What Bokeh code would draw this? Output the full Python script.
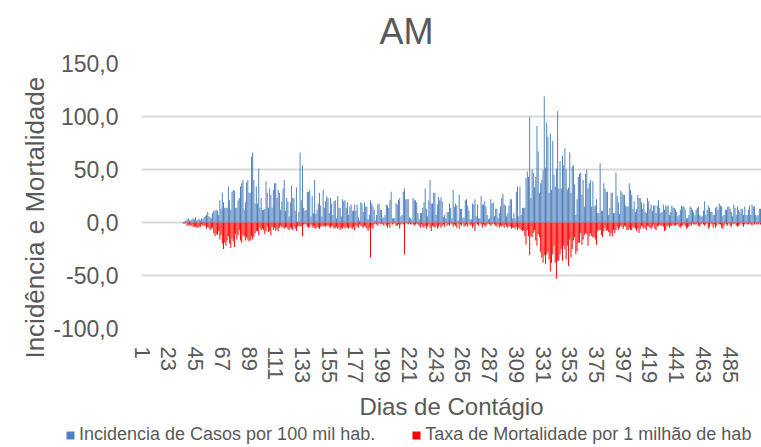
from bokeh.plotting import figure
from bokeh.layouts import column
from bokeh.models import (ColumnDataSource, Range1d, FixedTicker, Legend, LegendItem, Title)
from bokeh.embed import file_html
from bokeh.resources import INLINE

TITLE = "AM"
X_LABEL = "Dias de Contágio"
Y_LABEL = "Incidência e Mortalidade"
SERIES_NAMES = ["Incidencia de Casos por 100 mil hab.", "Taxa de Mortalidade por 1 milhão de hab"]

X_TICKS = [1, 23, 45, 67, 89, 111, 133, 155, 177, 199, 221, 243, 265, 287, 309,
           331, 353, 375, 397, 419, 441, 463, 485]
Y_TICKS = [-100, -50, 0, 50, 100, 150]

INCIDENCIA = [
    0, 0, 0, 0, 0, 0, 0, 0, 0, 0,
    0, 0, 0, 0, 0, 0, 0, 0, 0, 0,
    0, 0, 0, 0, 0, 0, 0, 0, 0, 0,
    0, 0, 0, 0, 0, 1, 2, 3, 4, 2,
    2, 3, 4, 3, 5, 2, 3, 3, 2, 4,
    3, 5, 6, 7, 10, 6, 5, 4, 9, 11,
    11, 12, 11, 7, 21, 13, 28, 19, 14, 14,
    14, 34, 21, 12, 29, 31, 30, 14, 14, 21,
    23, 34, 37, 40, 12, 19, 38, 40, 28, 28,
    62, 66, 40, 18, 34, 18, 51, 14, 23, 12,
    12, 13, 39, 28, 14, 32, 26, 14, 31, 37,
    37, 23, 31, 28, 12, 20, 32, 40, 11, 23,
    20, 6, 19, 35, 23, 23, 11, 33, 1, 10,
    66, 21, 54, 14, 11, 12, 29, 29, 31, 6,
    25, 9, 40, 8, 12, 18, 28, 16, 6, 31,
    14, 20, 25, 23, 9, 23, 18, 7, 20, 21,
    4, 25, 14, 14, 6, 22, 20, 21, 14, 19,
    7, 15, 17, 11, 11, 17, 11, 17, 5, 2,
    19, 18, 10, 19, 15, 15, 3, 7, 21, 18,
    15, 12, 2, 7, 17, 18, 12, 12, 4, 5,
    7, 17, 16, 14, 21, 29, 4, 4, 4, 18,
    17, 21, 23, 6, 7, 29, 32, 22, 22, 22,
    5, 4, 3, 23, 21, 21, 19, 9, 3, 9,
    9, 14, 19, 32, 13, 6, 21, 40, 18, 18,
    28, 28, 7, 17, 24, 21, 24, 20, 5, 7,
    4, 10, 10, 18, 14, 4, 31, 15, 18, 16,
    2, 26, 13, 13, 4, 5, 21, 22, 16, 11,
    3, 3, 18, 17, 22, 6, 17, 4, 4, 25,
    17, 17, 20, 15, 7, 3, 4, 22, 18, 19,
    6, 13, 13, 4, 9, 15, 23, 27, 17, 16,
    6, 9, 16, 22, 22, 4, 9, 4, 29, 34,
    6, 34, 7, 14, 14, 14, 42, 48, 43, 100,
    23, 50, 47, 33, 43, 91, 67, 28, 37, 40,
    49, 119, 52, 94, 81, 28, 84, 31, 77, 45,
    34, 51, 105, 32, 58, 32, 63, 54, 70, 50,
    31, 33, 66, 28, 53, 54, 36, 7, 22, 43,
    46, 47, 26, 40, 15, 46, 50, 32, 37, 40,
    15, 39, 15, 16, 22, 9, 9, 56, 11, 11,
    37, 32, 29, 29, 7, 14, 28, 28, 9, 9,
    47, 25, 19, 8, 30, 28, 26, 26, 16, 15,
    15, 37, 31, 26, 13, 20, 10, 13, 26, 23,
    23, 19, 13, 18, 10, 9, 23, 20, 13, 17,
    11, 16, 16, 9, 16, 21, 14, 9, 10, 17,
    12, 16, 15, 16, 7, 10, 16, 14, 14, 12,
    10, 6, 7, 12, 16, 15, 15, 12, 4, 4,
    7, 15, 14, 12, 10, 7, 12, 14, 15, 7,
    6, 6, 11, 20, 7, 12, 16, 14, 10, 10,
    7, 7, 14, 15, 12, 18, 16, 15, 6, 7,
    12, 12, 15, 15, 13, 10, 6, 17, 14, 7,
    15, 12, 10, 13, 13, 7, 15, 7, 7, 12,
    16, 7, 17, 15, 15, 7, 6, 7, 13, 13,
]

MORTALIDADE = [
    0, 0, 0, 0, 0, 0, 0, 0, 0, 0,
    0, 0, 0, 0, 0, 0, 0, 0, 0, 0,
    0, 0, 0, 0, 0, 0, 0, 0, 0, 0,
    0, 0, 0, -0.5, -1, -1, -1, -3, -3, -2,
    -3, -3, -4, -4, -4, -5, -5, -4, -4, -2,
    -3, -3, -3, -6, -4, -5, -7, -6, -5, -10,
    -13, -11, -12, -8, -16, -12, -20, -25, -19, -22,
    -17, -13, -20, -24, -15, -18, -23, -11, -16, -12,
    -7, -17, -19, -12, -13, -17, -14, -16, -18, -17,
    -13, -16, -14, -10, -8, -8, -12, -5, -7, -6,
    -7, -11, -8, -4, -9, -8, -12, -4, -7, -5,
    -8, -6, -8, -5, -3, -5, -4, -6, -5, -4,
    -6, -7, -5, -6, -7, -4, -6, -8, -4, -3,
    -4, -3, -13, -2, -2, -2, -4, -5, -4, -2,
    -5, -3, -5, -6, -4, -5, -6, -4, -3, -4,
    -3, -4, -3, -3, -4, -5, -3, -4, -6, -5,
    -4, -6, -5, -7, -5, -6, -4, -6, -4, -5,
    -6, -4, -5, -6, -4, -7, -3, -4, -5, -2,
    -3, -4, -5, -3, -4, -6, -8, -5, -33, -4,
    -6, -2, -1, -2, -3, -1, -2, -1, -2, -3,
    -1, -3, -5, -2, -5, -1, -2, -1, -1, -3,
    -3, -2, -6, -2, -1, -2, -30, -1, -1, -2,
    -1, -2, -1, -2, -3, -2, -1, -2, -3, -5,
    -2, -4, -5, -3, -6, -4, -2, -5, -8, -3,
    -4, -5, -3, -6, -4, -2, -5, -3, -2, -4,
    -1, -3, -2, -3, -1, -2, -4, -2, -3, -5,
    -1, -6, -2, -3, -1, -4, -3, -2, -4, -1,
    -3, -2, -5, -3, -8, -1, -2, -3, -1, -2,
    -5, -2, -3, -4, -2, -1, -2, -3, -2, -1,
    -2, -3, -4, -2, -5, -3, -4, -3, -5, -2,
    -4, -5, -3, -4, -6, -5, -5, -6, -4, -7,
    -5, -6, -7, -8, -7, -13, -21, -7, -13, -31,
    -13, -14, -10, -7, -17, -22, -11, -14, -28, -33,
    -38, -31, -39, -30, -28, -35, -46, -38, -30, -22,
    -38, -53, -36, -36, -30, -25, -36, -22, -25, -35,
    -22, -41, -16, -33, -25, -17, -14, -30, -27, -19,
    -19, -10, -21, -16, -12, -10, -11, -22, -13, -10,
    -13, -14, -14, -16, -21, -8, -7, -7, -12, -14,
    -8, -5, -8, -7, -9, -13, -10, -13, -7, -10,
    -7, -4, -7, -5, -3, -4, -6, -3, -4, -7,
    -7, -5, -7, -7, -4, -5, -6, -8, -6, -10,
    -6, -3, -4, -6, -5, -7, -3, -4, -5, -6,
    -4, -2, -6, -7, -4, -3, -2, -3, -3, -4,
    -8, -7, -3, -3, -5, -3, -3, -2, -3, -3,
    -2, -2, -4, -5, -3, -3, -2, -3, -6, -5,
    -4, -2, -3, -1, -2, -2, -2, -1, -3, -4,
    -2, -1, -2, -3, -2, -1, -6, -4, -1, -2,
    -5, -2, -5, -3, -1, -2, -2, -5, -6, -3,
    -1, -2, -3, -1, -3, -4, -1, -2, -1, -3,
    -4, -3, -2, -1, -2, -4, -2, -1, -2, -2,
    -1, -2, -3, -1, -2, -1, -2, -2, -1, -2,
]

DIAS = list(range(1, len(INCIDENCIA) + 1))

FONT = "Liberation Sans"
TXT = "#595959"
BLUE = "#4F81BD"
RED = "#FF0000"
GRID = "#D9D9D9"

src = ColumnDataSource(dict(dia=DIAS, inc=INCIDENCIA, mort=MORTALIDADE))

p = figure(width=761, height=423, output_backend="svg", toolbar_location=None,
           x_range=Range1d(0.5, 510.8), y_range=Range1d(-100, 150),
           min_border_left=141, min_border_right=0, min_border_top=63,
           min_border_bottom=93, outline_line_color=None, title=None)
p.frame_align = False

p.add_layout(Title(text=TITLE, align="left", offset=238, text_font_size="36px",
                   text_color=TXT, text_font=FONT, text_font_style="normal",
                   vertical_align="top", standoff=20), "above")

r1 = p.vbar(x="dia", top="inc", bottom=0, width=0.8, source=src,
            fill_color=BLUE, line_color=None)
r2 = p.vbar(x="dia", top="mort", bottom=0, width=0.8, source=src,
            fill_color=RED, line_color=None)

xa = p.below[0]
xa.ticker = FixedTicker(ticks=X_TICKS)
xa.major_label_orientation = "vertical"
xa.axis_line_color = None
xa.major_tick_line_color = None
xa.minor_tick_line_color = None
xa.major_tick_out = 0
xa.major_label_standoff = 18
xa.major_label_text_font_size = "22px"
xa.major_label_text_font = FONT
xa.major_label_text_color = TXT
xa.axis_label = X_LABEL
xa.axis_label_text_font_size = "24px"
xa.axis_label_text_font = FONT
xa.axis_label_text_font_style = "normal"
xa.axis_label_text_color = TXT
xa.axis_label_standoff = 7

ya = p.left[0]
ya.ticker = FixedTicker(ticks=Y_TICKS)
ya.major_label_overrides = {v: f"{v:.1f}".replace(".", ",") for v in Y_TICKS}
ya.axis_line_color = None
ya.major_tick_line_color = None
ya.minor_tick_line_color = None
ya.major_tick_out = 0
ya.major_label_standoff = 23
ya.major_label_text_font_size = "23px"
ya.major_label_text_font = FONT
ya.major_label_text_color = TXT
ya.axis_label = Y_LABEL + "\u00a0" * 6
ya.axis_label_text_font_size = "26px"
ya.axis_label_text_font = FONT
ya.axis_label_text_font_style = "normal"
ya.axis_label_text_color = TXT
ya.axis_label_standoff = 0

p.xgrid.grid_line_color = None
p.ygrid.ticker = FixedTicker(ticks=Y_TICKS)
p.ygrid.grid_line_color = GRID
p.ygrid.grid_line_width = 2

# legend row (own small figure; the series renderers here sit outside its ranges)
p2 = figure(width=761, height=24, output_backend="svg", toolbar_location=None,
            x_range=Range1d(-30, -20), y_range=Range1d(0, 1),
            x_axis_location=None, y_axis_location=None,
            min_border_left=0, min_border_right=0, min_border_top=0,
            min_border_bottom=0, outline_line_color=None, title=None)
p2.frame_align = False
p2.xgrid.grid_line_color = None
p2.ygrid.grid_line_color = None
l1 = p2.vbar(x="dia", top="inc", width=0.8, source=src, fill_color=BLUE, line_color=None)
l2 = p2.vbar(x="dia", top="mort", width=0.8, source=src, fill_color=RED, line_color=None)
legend = Legend(items=[LegendItem(label=SERIES_NAMES[0], renderers=[l1]),
                       LegendItem(label=SERIES_NAMES[1], renderers=[l2])],
                orientation="horizontal", location=(65, 2),
                glyph_width=10, glyph_height=10, label_standoff=4, spacing=36,
                padding=0, margin=0, border_line_color=None,
                background_fill_alpha=0, label_text_font=FONT,
                label_text_font_size="18px", label_text_color=TXT,
                label_height=18)
p2.add_layout(legend, "center")

layout = column(p, p2, spacing=0)
open("out.html", "w").write(file_html(layout, INLINE))
